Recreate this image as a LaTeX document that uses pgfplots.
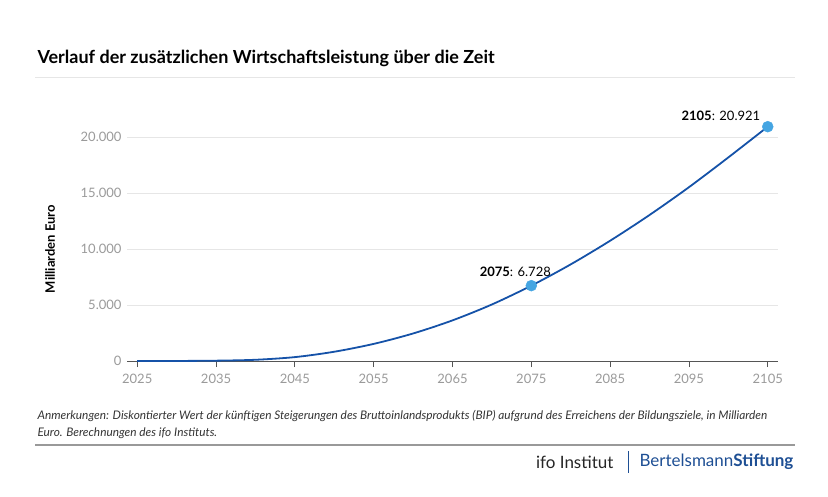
\documentclass[border=0pt]{standalone}
\usepackage{fontspec}
\setmainfont{Lato}
\usepackage{pgfplots}
\pgfplotsset{compat=1.18}
\definecolor{linecol}{HTML}{1552A8}
\definecolor{dotcol}{HTML}{45A5E2}
\definecolor{tickcol}{HTML}{9A9A9A}
\definecolor{gridcol}{HTML}{E6E6E6}
\definecolor{axiscol}{HTML}{555555}
\definecolor{bsblue}{HTML}{1E4F94}
\begin{document}
\begin{tikzpicture}
\path[use as bounding box] (0pt,0pt) rectangle (828pt,-496pt);
\begin{scope}[x=1pt,y=1pt]
% title and rule
\node[anchor=west,font=\fontsize{18}{20}\selectfont\bfseries] at (34,-58) {Verlauf der zusätzlichen Wirtschaftsleistung über die Zeit};
\draw[gridcol,line width=1pt] (35,-77) -- (795,-77);
% y label
\node[rotate=90,font=\fontsize{13}{15}\selectfont\bfseries] at (50,-249) {Milliarden Euro};
% note
\node[anchor=west,font=\fontsize{11.85}{14}\selectfont\itshape,text=black!80] at (34,-416) {Anmerkungen: Diskontierter Wert der künftigen Steigerungen des Bruttoinlandsprodukts (BIP) aufgrund des Erreichens der Bildungsziele, in Milliarden};
\node[anchor=west,font=\fontsize{11.85}{14}\selectfont\itshape,text=black!80] at (34,-433) {Euro. Berechnungen des ifo Instituts.};
\draw[black!40,line width=1.2pt] (35,-445) -- (795,-445);
% logos
\node[anchor=east,font=\fontsize{17}{19}\selectfont,text=black!85] at (617,-462) {ifo Institut};
\draw[bsblue,line width=1pt] (628,-451) -- (628,-473);
\node[anchor=west,font=\fontsize{17}{19}\selectfont,text=bsblue] at (636,-462) {Bertelsmann\textbf{Stiftung}};
\end{scope}
\begin{axis}[
    at={(127pt,-361pt)}, anchor=south west,
    scale only axis, width=651pt, height=224pt,
    xmin=2023.7, xmax=2106.3,
    ymin=0, ymax=20000,
    clip=false,
    axis x line*=bottom,
    axis y line*=left,
    x axis line style={axiscol,line width=0.9pt,-},
    y axis line style={draw=none},
    xtick={2025,2035,...,2105},
    ytick={0,5000,10000,15000,20000},
    scaled y ticks=false,
    ymajorgrids,
    grid style={gridcol,line width=0.8pt},
    major x tick style={axiscol,line width=0.8pt},
    major y tick style={draw=none},
    major tick length=6pt,
    xtick align=outside,
    tick label style={font=\fontsize{13}{15}\selectfont,text=tickcol},
    /pgf/number format/assume math mode=true,
    xticklabel style={/pgf/number format/1000 sep={},yshift=-4pt},
    yticklabel style={/pgf/number format/1000 sep={.},xshift=-2pt},
]
\addplot[linecol,line width=1.8pt,smooth] coordinates {
    (2025,0) (2030,5) (2035,30) (2040,110) (2045,348) (2050,828)
    (2055,1528) (2060,2458) (2065,3628) (2070,5048) (2075,6728)
    (2080,8628) (2085,10738) (2090,13038) (2095,15518) (2100,18178) (2105,20921)
};
\addplot[only marks,mark=*,mark size=5.5pt,dotcol,mark options={draw=dotcol,fill=dotcol}] coordinates {
    (2075,6728) (2105,20921)
};
\node[anchor=south,font=\fontsize{13}{15}\selectfont,xshift=-16pt,yshift=6pt] at (axis cs:2075,6728) {\textbf{2075}: 6.728};
\node[anchor=south east,font=\fontsize{13}{15}\selectfont,xshift=-4pt,yshift=3pt] at (axis cs:2105,20921) {\textbf{2105}: 20.921};
\end{axis}
\end{tikzpicture}
\end{document}
